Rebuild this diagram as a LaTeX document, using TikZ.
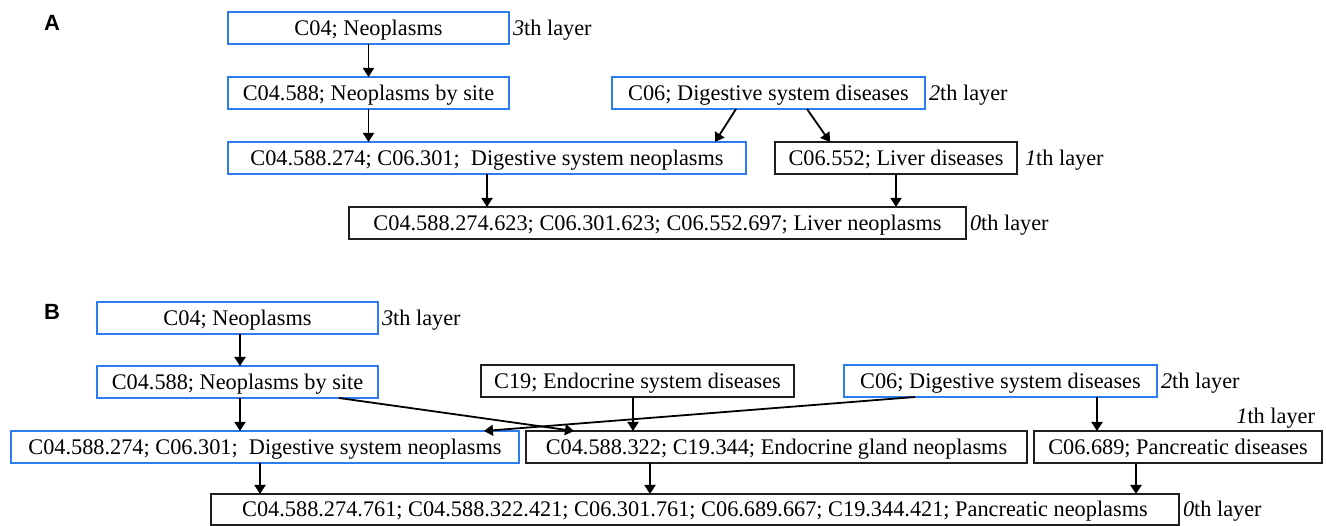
\documentclass[tikz,border=0pt]{standalone}
\usepackage{fontspec}
\setmainfont{Liberation Serif}
\newfontfamily\panelfont{Liberation Sans}
\usetikzlibrary{arrows.meta,calc}
\definecolor{meshblue}{RGB}{45,125,240}
\definecolor{boxgray}{RGB}{30,30,30}
\begin{document}
\begin{tikzpicture}[x=1pt,y=-1pt,
  term/.style={draw, line width=1.6pt, minimum height=32pt, inner sep=0pt, outer sep=0pt,
    text height=14.5pt, text depth=0pt, font=\fontsize{22.3}{26}\selectfont},
  bluebox/.style={term, draw=meshblue},
  blackbox/.style={term, draw=boxgray},
  layer/.style={inner sep=0pt, outer sep=0pt, text height=14.5pt, text depth=0pt,
    font=\fontsize{22.3}{26}\selectfont},
  arr/.style={-{Triangle[width=11pt,length=9pt]}, line width=1.8pt},
  panel/.style={font=\panelfont\bfseries\fontsize{22}{26}\selectfont, inner sep=0pt}]
\useasboundingbox (0,0) rectangle (1326,526);

% ---------- panel A ----------
\node[panel] (pa) at (52,23) {A};
\node[bluebox, minimum width=281pt] (a3) at (368.5,28) {C04; Neoplasms};
\node[bluebox, minimum width=281pt] (a2) at (368.5,93) {C04.588; Neoplasms by site};
\node[bluebox, minimum width=313pt] (a2b) at (768.5,93) {C06; Digestive system diseases};
\node[bluebox, minimum width=518pt] (a1) at (487,158) {C04.588.274; C06.301;\ \ Digestive system neoplasms};
\node[blackbox, minimum width=242pt] (a1b) at (896,158) {C06.552; Liver diseases};
\node[blackbox, minimum width=617pt] (a0) at (657.5,223) {C04.588.274.623; C06.301.623; C06.552.697; Liver neoplasms};

\node[layer, anchor=west] (la3) at (513,28) {\textit{3}th layer};
\node[layer, anchor=west] (la2) at (929,93) {\textit{2}th layer};
\node[layer, anchor=west] (la1) at (1025,158) {\textit{1}th layer};
\node[layer, anchor=west] (la0) at (970,223) {\textit{0}th layer};

\draw[arr] (a3.south) -- (a2.north);
\draw[arr] (a2.south) -- (a2.south |- a1.north);
\draw[arr] (a1.south) -- (a1.south |- a0.north);
\draw[arr] ([xshift=124pt]a2b.south west) -- ([xshift=-31pt]a1.north east);
\draw[arr] ([xshift=195pt]a2b.south west) -- ([xshift=55pt]a1b.north west);
\draw[arr] (a1b.south) -- (a1b.south |- a0.north);

% ---------- panel B ----------
\node[panel] (pb) at (52,312) {B};
\node[bluebox, minimum width=281pt] (b3) at (237.5,318) {C04; Neoplasms};
\node[bluebox, minimum width=281pt] (b2) at (237.5,382) {C04.588; Neoplasms by site};
\node[blackbox, minimum width=313pt] (c2) at (637.5,381) {C19; Endocrine system diseases};
\node[bluebox, minimum width=313pt] (d2) at (1000.5,381) {C06; Digestive system diseases};
\node[bluebox, minimum width=508pt] (b1) at (265,447) {C04.588.274; C06.301;\ \ Digestive system neoplasms};
\node[blackbox, minimum width=501pt] (c1) at (776.5,447) {C04.588.322; C19.344; Endocrine gland neoplasms};
\node[blackbox, minimum width=288pt] (d1) at (1178,447) {C06.689; Pancreatic diseases};
\node[blackbox, minimum width=968pt, minimum height=31pt] (b0) at (695,509.5)
  {C04.588.274.761; C04.588.322.421; C06.301.761; C06.689.667; C19.344.421; Pancreatic neoplasms};

\node[layer, anchor=west] (lb3) at (382,318) {\textit{3}th layer};
\node[layer, anchor=west] (lb2) at (1161,381) {\textit{2}th layer};
\node[layer, anchor=east] (lb1) at (1315,416) {\textit{1}th layer};
\node[layer, anchor=west] (lb0) at (1183,509.5) {\textit{0}th layer};

\draw[arr] ([xshift=143pt]b3.south west) -- ([xshift=143pt]b2.north west);
\draw[arr] ([xshift=143pt]b2.south west) -- ([xshift=229pt]b1.north west);
\draw[arr] ([xshift=242pt]b2.south west) -- ([xshift=48pt]c1.north west);
\draw[arr] ([xshift=152pt]c2.south west) -- ([xshift=107pt]c1.north west);
\draw[arr] ([xshift=71pt]d2.south west) -- ([xshift=-35pt]b1.north east);
\draw[arr] ([xshift=253pt]d2.south west) -- ([xshift=63pt]d1.north west);
\draw[arr] ([xshift=249pt]b1.south west) -- ([xshift=49pt]b0.north west);
\draw[arr] ([xshift=124pt]c1.south west) -- ([xshift=439pt]b0.north west);
\draw[arr] ([xshift=102pt]d1.south west) -- ([xshift=925pt]b0.north west);
\end{tikzpicture}
\end{document}
